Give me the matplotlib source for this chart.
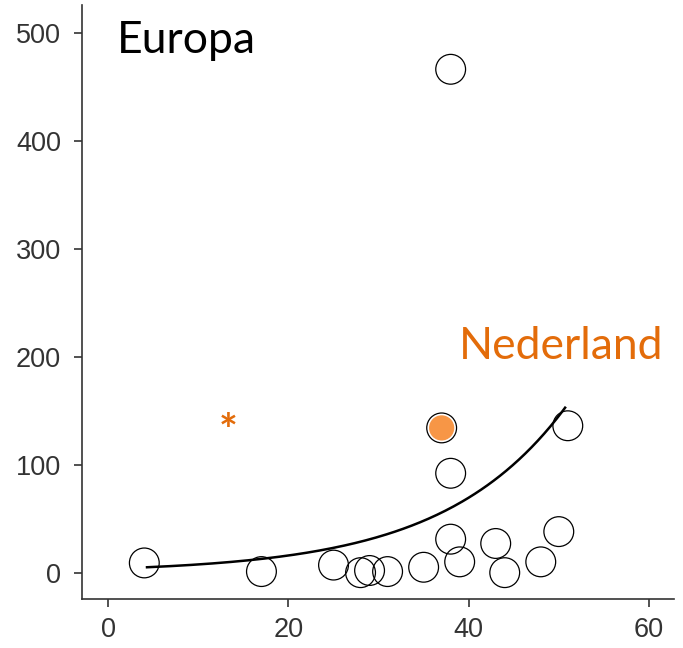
import numpy as np
import matplotlib.pyplot as plt

plt.rcParams['font.family'] = ['Liberation Sans', 'DejaVu Sans']

# observations
x = [4, 17, 25, 28, 29, 31, 35, 38, 39, 38, 43, 44, 48, 50, 51, 38, 37]
y = [9, 1, 7, 0, 2, 1, 5, 31, 10, 92, 27, 0, 10, 38, 136, 466, 134]

# the Dutch point
nl_x, nl_y = 37, 134

# exponential fit y = a * exp(b * x)
fit_a, fit_b = 3.64, 0.0737
fit_x = np.linspace(4.3, 50.7, 200)

ticks_x = [0, 20, 40, 60]
ticks_y = [0, 100, 200, 300, 400, 500]

fig = plt.figure(figsize=(6.83, 6.48), dpi=100)
ax = fig.add_axes([0.120, 0.0756, 0.867, 0.917])

ax.scatter(x, y, s=460, facecolors='none', edgecolors='black', linewidths=0.9, zorder=3)
ax.scatter([nl_x], [nl_y], s=330, color='#F79646', edgecolors='none', zorder=4)
ax.plot(fit_x, fit_a * np.exp(fit_b * fit_x), color='black', lw=1.8, zorder=2)

ax.text(13.3, 118, '*', color='#E36C0A', fontsize=32, fontweight='bold',
        ha='center', va='baseline', family='Lato')
ax.text(0.95, 493, 'Europa', fontsize=32, family='Lato', color='black',
        ha='left', va='center')
ax.text(61.6, 209, 'Nederland', fontsize=32, family='Lato', color='#E36C0A',
        ha='right', va='center')

ax.set_xlim(-2.92, 62.8)
ax.set_ylim(-24.4, 525.7)
ax.set_xticks(ticks_x)
ax.set_yticks(ticks_y)
for s in ['top', 'right']:
    ax.spines[s].set_visible(False)
for s in ['left', 'bottom']:
    ax.spines[s].set_color('#333333')
    ax.spines[s].set_linewidth(1.2)
ax.tick_params(length=6, width=1.2, color='#333333', labelcolor='#333333',
               labelsize=19.5)
ax.tick_params(axis='x', pad=7)
ax.tick_params(axis='y', pad=9)

plt.savefig('out.png', dpi=100)
